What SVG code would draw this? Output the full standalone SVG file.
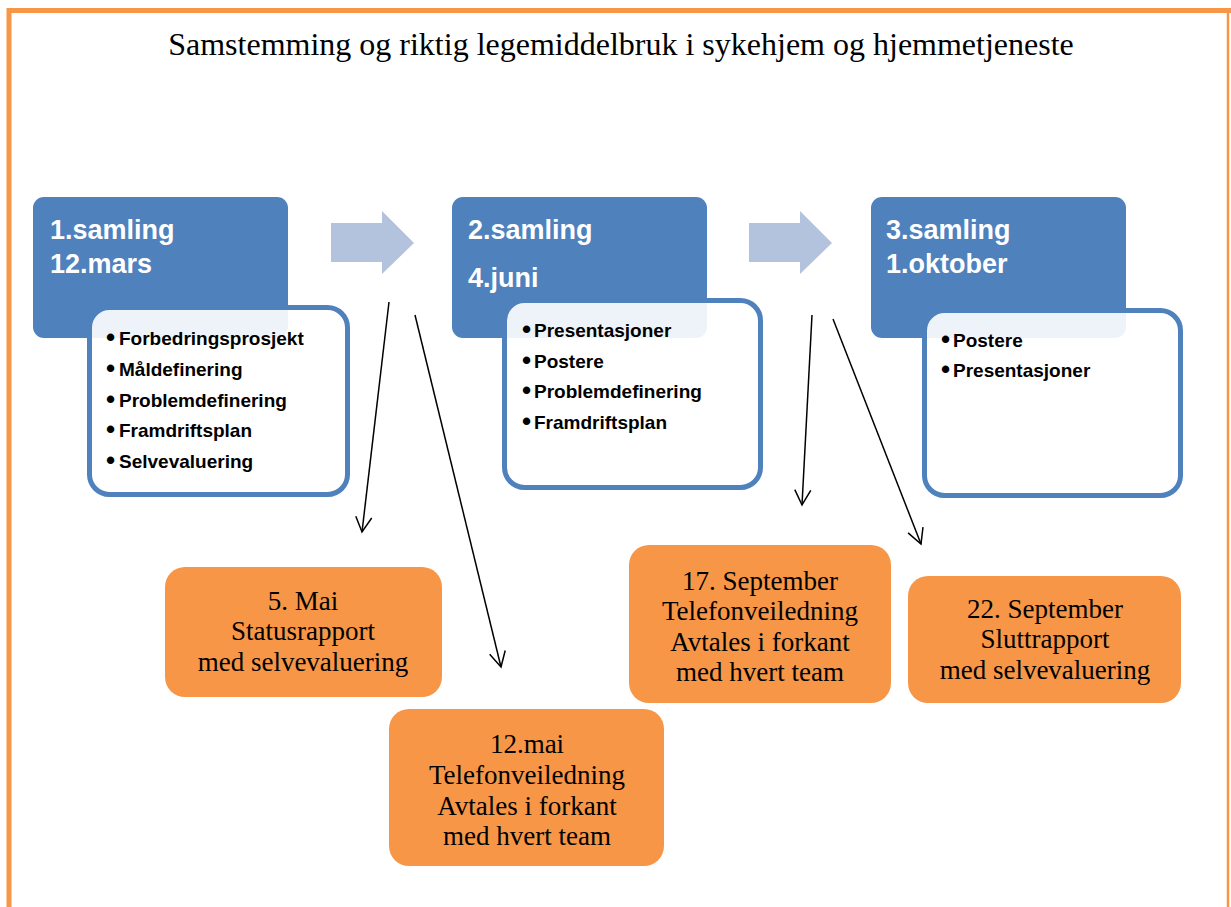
<svg xmlns="http://www.w3.org/2000/svg" width="1231" height="907" viewBox="0 0 1231 907">
<defs>
<style>
.title{font-family:"Liberation Serif","Times New Roman",serif;font-size:32px;fill:#000}
.hdr{fill:#4F81BD}
.hdrt{font-family:"Liberation Sans",Arial,sans-serif;font-weight:bold;font-size:27px;fill:#fff}
.sub{fill:#fff;fill-opacity:0.9;stroke:#4F81BD;stroke-width:5}
.bul{font-family:"Liberation Sans",Arial,sans-serif;font-weight:bold;font-size:19px;fill:#000}
.dot{font-size:26px}
.big{fill:#B3C3DE}
.org{fill:#F79646}
.ot{font-family:"Liberation Serif","Times New Roman",serif;font-size:27px;fill:#000;text-anchor:middle}
.con{stroke:#000;stroke-width:1.5;fill:none;marker-end:url(#v)}
</style>
<marker id="v" viewBox="-16 -9 18 18" refX="0" refY="0" markerWidth="18" markerHeight="18" markerUnits="userSpaceOnUse" orient="auto">
<path d="M-15,-8 L0,0 L-15,8" fill="none" stroke="#000" stroke-width="1.5"/>
</marker>
</defs>
<rect width="1231" height="907" fill="#fff"/>
<g id="frame" stroke="#F79646" fill="none">
<line x1="9" y1="10.5" x2="1231" y2="10.5" stroke-width="5"/>
<line x1="9" y1="8" x2="9" y2="907" stroke-width="5"/>
<line x1="1228" y1="10" x2="1228" y2="907" stroke-width="2.5"/>
</g>
<text class="title" x="621" y="55" text-anchor="middle">Samstemming og riktig legemiddelbruk i sykehjem og hjemmetjeneste</text>

<g id="arrow1"><polygon class="big" points="331,223 382,223 382,211 414,243 382,274 382,262 331,262"/></g>
<g id="arrow2"><polygon class="big" points="749,223 800,223 800,211 832,243 800,274 800,262 749,262"/></g>

<g id="samling1">
<rect class="hdr" x="33" y="197" width="255" height="141" rx="11"/>
<text class="hdrt" x="50" y="239">1.samling</text>
<text class="hdrt" x="50" y="273">12.mars</text>
<rect class="sub" x="89.5" y="307.5" width="258" height="187" rx="20"/>
<g class="bul">
<text class="dot" x="106" y="346">•</text><text x="119" y="345">Forbedringsprosjekt</text>
<text class="dot" x="106" y="377">•</text><text x="119" y="376">Måldefinering</text>
<text class="dot" x="106" y="408">•</text><text x="119" y="407">Problemdefinering</text>
<text class="dot" x="106" y="438">•</text><text x="119" y="437">Framdriftsplan</text>
<text class="dot" x="106" y="469">•</text><text x="119" y="468">Selvevaluering</text>
</g>
</g>

<g id="samling2">
<rect class="hdr" x="452" y="197" width="255" height="141" rx="11"/>
<text class="hdrt" x="468" y="239">2.samling</text>
<text class="hdrt" x="468" y="287">4.juni</text>
<rect class="sub" x="504.5" y="300.5" width="256" height="187" rx="20"/>
<g class="bul">
<text class="dot" x="522" y="338">•</text><text x="534" y="337">Presentasjoner</text>
<text class="dot" x="522" y="369">•</text><text x="534" y="368">Postere</text>
<text class="dot" x="522" y="399">•</text><text x="534" y="398">Problemdefinering</text>
<text class="dot" x="522" y="430">•</text><text x="534" y="429">Framdriftsplan</text>
</g>
</g>

<g id="samling3">
<rect class="hdr" x="871" y="197" width="255" height="141" rx="11"/>
<text class="hdrt" x="886" y="239">3.samling</text>
<text class="hdrt" x="886" y="273">1.oktober</text>
<rect class="sub" x="924.5" y="310.5" width="256" height="185" rx="20"/>
<g class="bul">
<text class="dot" x="941" y="348">•</text><text x="953" y="347">Postere</text>
<text class="dot" x="941" y="378">•</text><text x="953" y="377">Presentasjoner</text>
</g>
</g>

<g id="connectors">
<line class="con" x1="389" y1="302" x2="362" y2="532"/>
<line class="con" x1="415" y1="315" x2="501" y2="667"/>
<line class="con" x1="812" y1="315" x2="802" y2="505"/>
<line class="con" x1="833" y1="319" x2="921" y2="544"/>
</g>

<g id="mai5">
<rect class="org" x="165" y="567" width="277" height="130" rx="20"/>
<text class="ot" x="303" y="610">5. Mai</text>
<text class="ot" x="303" y="640">Statusrapport</text>
<text class="ot" x="303" y="671">med selvevaluering</text>
</g>

<g id="mai12">
<rect class="org" x="389" y="709" width="275" height="157" rx="20"/>
<text class="ot" x="527" y="753">12.mai</text>
<text class="ot" x="527" y="784">Telefonveiledning</text>
<text class="ot" x="527" y="815">Avtales i forkant</text>
<text class="ot" x="527" y="845">med hvert team</text>
</g>

<g id="sep17">
<rect class="org" x="629" y="545" width="262" height="158" rx="20"/>
<text class="ot" x="760" y="590">17. September</text>
<text class="ot" x="760" y="620">Telefonveiledning</text>
<text class="ot" x="760" y="651">Avtales i forkant</text>
<text class="ot" x="760" y="681">med hvert team</text>
</g>

<g id="sep22">
<rect class="org" x="908" y="576" width="273" height="127" rx="20"/>
<text class="ot" x="1045" y="618">22. September</text>
<text class="ot" x="1045" y="648">Sluttrapport</text>
<text class="ot" x="1045" y="679">med selvevaluering</text>
</g>
</svg>
